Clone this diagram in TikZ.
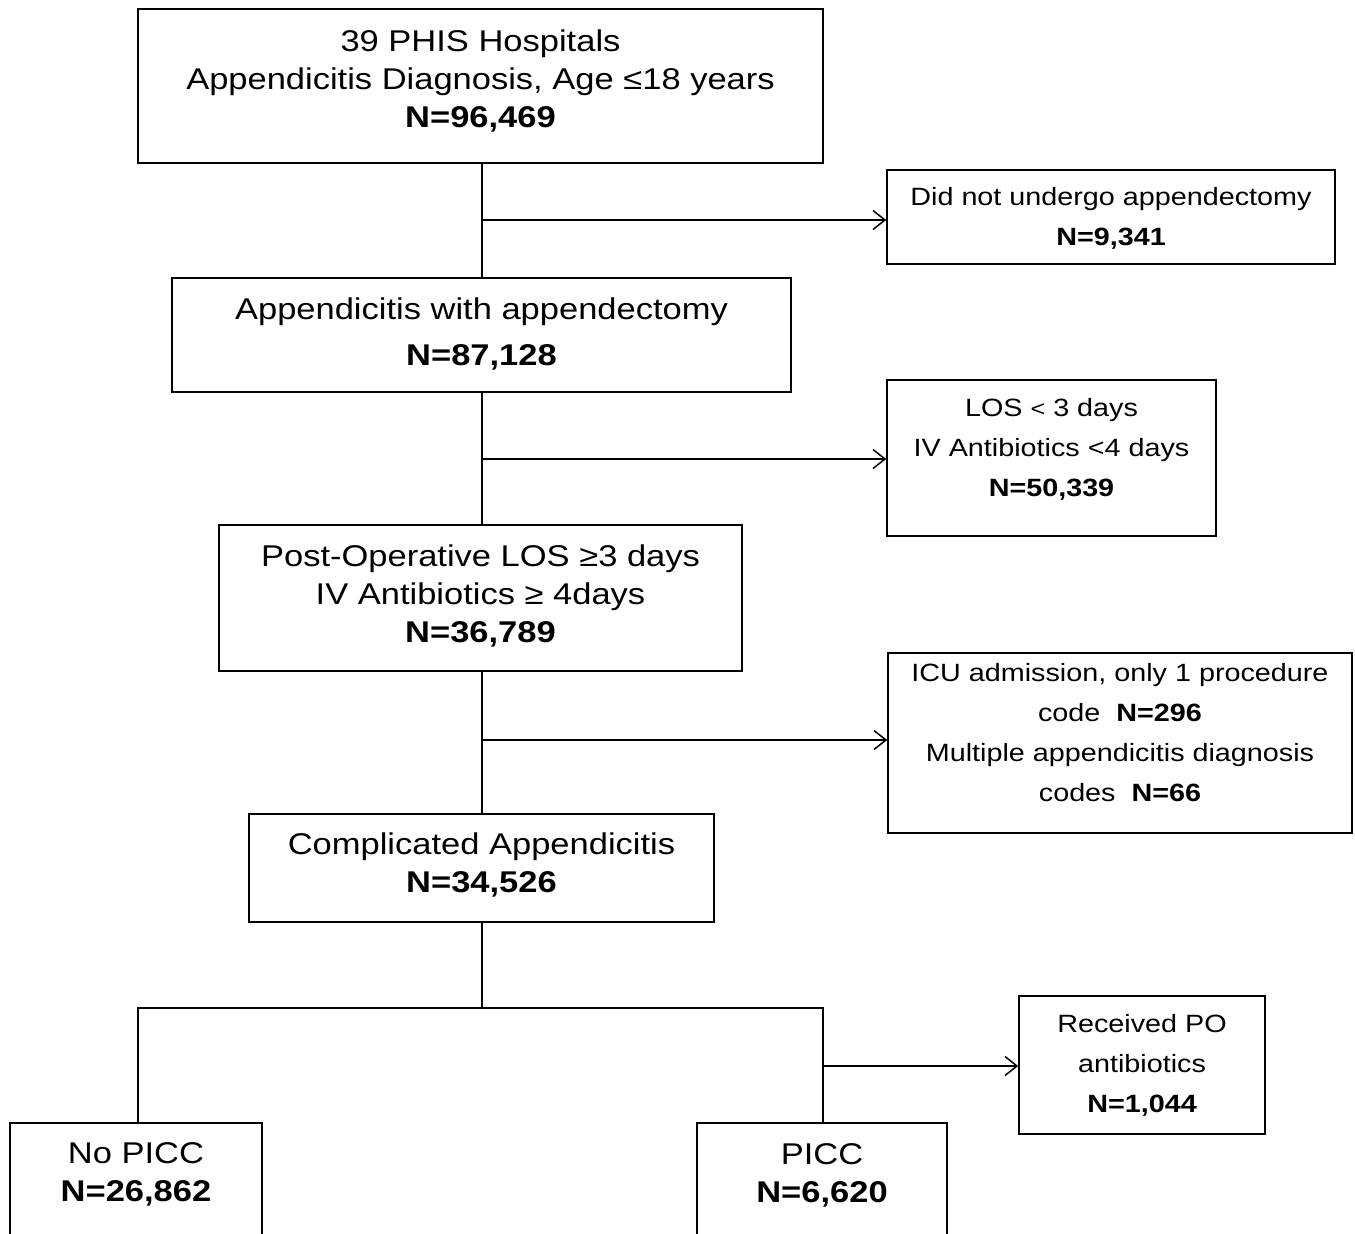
\documentclass[tikz,border=0pt]{standalone}
\usepackage{fontspec}
\setmainfont[FakeStretch=1.15]{Liberation Sans}
\usetikzlibrary{arrows.meta}
\begin{document}
\begin{tikzpicture}[x=1pt,y=-1pt,
  box/.style={draw, line width=1.6pt, inner sep=0pt, rectangle},
  txt/.style={align=center, inner sep=0pt, font=\fontsize{30}{38}\selectfont},
  stxt/.style={align=center, inner sep=0pt, font=\fontsize{25}{40}\selectfont},
  conn/.style={line width=1.3pt},
  arr/.style={line width=1.3pt, -{Straight Barb[length=12pt,width=19pt,line width=1.5pt]}}
]
\useasboundingbox (0,0) rectangle (1355,1234);
% main boxes
\node[box, minimum width=685pt, minimum height=154pt] (b1) at (480.5,86) {};
\node[txt] (t1) at (480.5,81) {39 PHIS Hospitals\\Appendicitis Diagnosis, Age ≤18 years\\\textbf{N=96,469}};
\node[box, minimum width=619pt, minimum height=114pt] (b2) at (481.5,335) {};
\node[txt] (t2) at (481.5,334) {Appendicitis with appendectomy\\[8pt]\textbf{N=87,128}};
\node[box, minimum width=523pt, minimum height=146pt] (b3) at (480.5,598) {};
\node[txt] (t3) at (480.5,596) {Post-Operative LOS ≥3 days\\IV Antibiotics ≥ 4days\\\textbf{N=36,789}};
\node[box, minimum width=465pt, minimum height=108pt] (b4) at (481.5,868) {};
\node[txt] (t4) at (481.5,865) {Complicated Appendicitis\\\textbf{N=34,526}};
% side boxes
\node[box, minimum width=448pt, minimum height=94pt] (r1) at (1111,217) {};
\node[stxt] (s1) at (1111,218.5) {Did not undergo appendectomy\\\textbf{N=9,341}};
\node[box, minimum width=329pt, minimum height=156pt] (r2) at (1051.5,458) {};
\node[stxt] (s2) at (1051.5,449) {LOS {\fontsize{22}{40}\selectfont<} 3 days\\IV Antibiotics <4 days\\\textbf{N=50,339}};
\node[box, minimum width=464pt, minimum height=180pt] (r3) at (1120,743) {};
\node[stxt] (s3) at (1120,732.5) {ICU admission, only 1 procedure\\code\ \ \textbf{N=296}\\Multiple appendicitis diagnosis\\codes\ \ \textbf{N=66}};
\node[box, minimum width=246pt, minimum height=138pt] (r4) at (1142,1065) {};
\node[stxt] (s4) at (1142,1065) {Received PO\\antibiotics\\\textbf{N=1,044}};
% bottom boxes (cut off by the page edge)
\node[minimum width=252pt, minimum height=113pt, inner sep=0pt, anchor=north] (nopicc) at (136,1123) {};
\draw[line width=1.6pt] (nopicc.south west) -- (nopicc.north west) -- (nopicc.north east) -- (nopicc.south east);
\node[txt] (tn) at (136,1174) {No PICC\\\textbf{N=26,862}};
\node[minimum width=250pt, minimum height=113pt, inner sep=0pt, anchor=north] (picc) at (822,1123) {};
\draw[line width=1.6pt] (picc.south west) -- (picc.north west) -- (picc.north east) -- (picc.south east);
\node[txt] (tp) at (822,1175) {PICC\\\textbf{N=6,620}};
% connectors
\coordinate (c1) at (482,220);
\coordinate (c2) at (482,459);
\coordinate (c3) at (482,740);
\coordinate (c4) at (482,1008);
\coordinate (cl) at (138,1008);
\coordinate (cr) at (823,1008);
\coordinate (c5) at (823,1066);
\draw[conn] (b1.south -| c1) -- (b2.north -| c1);
\draw[arr] (c1) -- (c1 -| r1.west);
\draw[conn] (b2.south -| c2) -- (b3.north -| c2);
\draw[arr] (c2) -- (c2 -| r2.west);
\draw[conn] (b3.south -| c3) -- (b4.north -| c3);
\draw[arr] (c3) -- (c3 -| r3.west);
\draw[conn] (b4.south -| c4) -- (c4);
\draw[conn] (cl |- nopicc.north) -- (cl) -- (cr) -- (cr |- picc.north);
\draw[arr] (c5) -- (c5 -| r4.west);
\end{tikzpicture}
\end{document}
